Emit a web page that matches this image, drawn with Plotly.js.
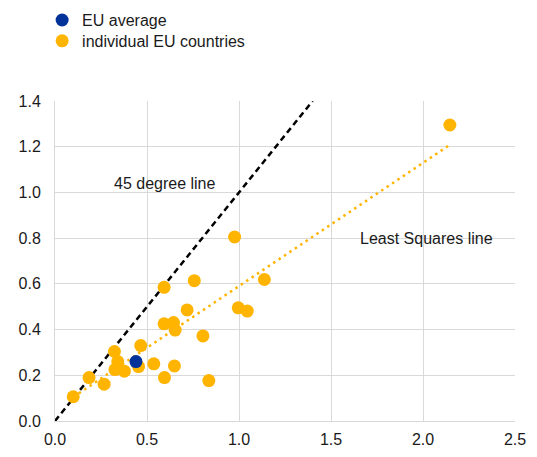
<!DOCTYPE html>
<html>
<head>
<meta charset="utf-8">
<script src="https://cdn.plot.ly/plotly-3.0.1.min.js"></script>
<style>html,body{margin:0;padding:0;background:#fff;}#chart{width:537px;height:457px;}</style>
</head>
<body>
<div id="chart"></div>
<script>
// EU average
const euX = [0.44];
const euY = [0.26];
// individual EU countries
const ctyX = [2.146, 0.976, 0.757, 0.593, 1.138, 0.718, 0.996, 1.045, 0.593, 0.644, 0.653, 0.804, 0.466, 0.323, 0.341, 0.454, 0.537, 0.649, 0.326, 0.377, 0.185, 0.267, 0.595, 0.836, 0.099];
const ctyY = [1.295, 0.805, 0.614, 0.585, 0.619, 0.486, 0.495, 0.481, 0.425, 0.431, 0.398, 0.372, 0.330, 0.304, 0.260, 0.238, 0.250, 0.241, 0.225, 0.218, 0.190, 0.161, 0.190, 0.177, 0.106];
// 45 degree line
const degX = [0, 1.4];
const degY = [0, 1.4];
// least squares line
const lsX = [0.10, 2.14];
const lsY = [0.105, 1.205];
// axis ticks
const xTicks = [0, 0.5, 1.0, 1.5, 2.0, 2.5];
const xTickText = ['0.0', '0.5', '1.0', '1.5', '2.0', '2.5'];
const yTicks = [0, 0.2, 0.4, 0.6, 0.8, 1.0, 1.2, 1.4];
const yTickText = ['0.0', '0.2', '0.4', '0.6', '0.8', '1.0', '1.2', '1.4'];

const BLUE = '#003299';
const ORANGE = '#FFB400';
const FONT = 'Liberation Sans, Arial, sans-serif';
const TXT = '#1a1a1a';

const data = [
  {x: degX, y: degY, type: 'scatter', mode: 'lines', showlegend: false,
   line: {color: '#000000', width: 2.5, dash: '6px,4px'}},
  {x: lsX, y: lsY, type: 'scatter', mode: 'lines', showlegend: false,
   line: {color: ORANGE, width: 2.5, dash: '2.5px,4px'}},
  {x: ctyX, y: ctyY, type: 'scatter', mode: 'markers', name: 'individual EU countries', legend: 'legend2',
   marker: {color: ORANGE, size: 13}},
  {x: euX, y: euY, type: 'scatter', mode: 'markers', name: 'EU average', legend: 'legend',
   marker: {color: BLUE, size: 13}}
];

const legendBase = {x: -0.028, xanchor: 'left', yanchor: 'top', bgcolor: 'rgba(0,0,0,0)',
  font: {family: FONT, size: 16, color: TXT}, itemclick: false, tracegroupgap: 0};

const layout = {
  width: 537, height: 457,
  margin: {l: 55, r: 22, t: 101, b: 36, autoexpand: false},
  paper_bgcolor: '#ffffff', plot_bgcolor: '#ffffff',
  font: {family: FONT, size: 16, color: TXT},
  showlegend: true,
  legend: Object.assign({}, legendBase, {y: 1.306}),
  legend2: Object.assign({}, legendBase, {y: 1.241}),
  xaxis: {range: [0, 2.5], tickvals: xTicks, ticktext: xTickText, showgrid: true, gridcolor: '#d9d9d9', gridwidth: 1,
          zeroline: false, showline: true, linecolor: '#d9d9d9', linewidth: 1, ticks: '', fixedrange: true,
          ticklabelstandoff: 4,
          tickfont: {family: FONT, size: 16, color: TXT}},
  yaxis: {range: [0, 1.4], tickvals: yTicks, ticktext: yTickText, showgrid: true, gridcolor: '#d9d9d9', gridwidth: 1,
          zeroline: false, showline: true, linecolor: '#d9d9d9', linewidth: 1, ticks: '', fixedrange: true,
          ticklabelstandoff: 10,
          tickfont: {family: FONT, size: 16, color: TXT}},
  annotations: [
    {x: 0.60, y: 1.037, xref: 'x', yref: 'y', text: '45 degree line', showarrow: false,
     font: {family: FONT, size: 16, color: TXT}},
    {x: 2.02, y: 0.80, xref: 'x', yref: 'y', text: 'Least Squares line', showarrow: false,
     font: {family: FONT, size: 16, color: TXT}}
  ]
};

Plotly.newPlot('chart', data, layout, {displayModeBar: false, staticPlot: true});
</script>
</body>
</html>
